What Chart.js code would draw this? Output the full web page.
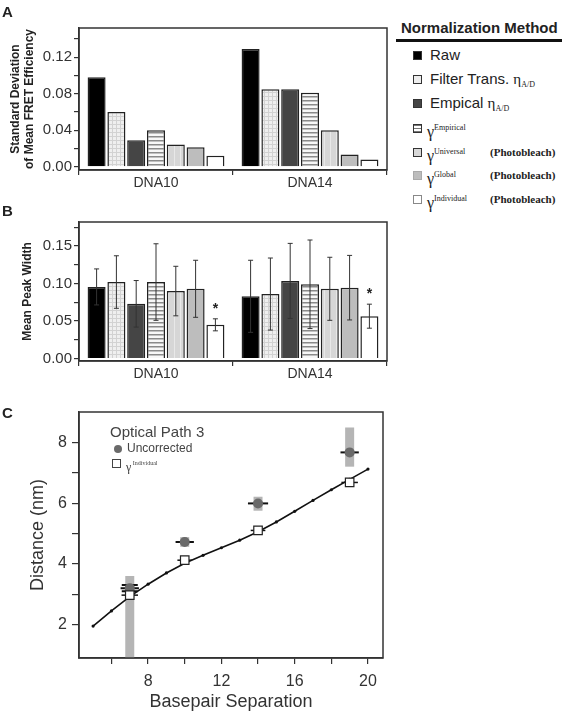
<!DOCTYPE html>
<html>
<head>
<meta charset="utf-8">
<script src="https://cdn.jsdelivr.net/npm/chart.js@4.4.0/dist/chart.umd.min.js"></script>
<style>
  body { margin: 0; background: #fff; }
  #fig { position: relative; width: 562px; height: 713px; overflow: hidden; font-family: "Liberation Sans", Arial, sans-serif; color: #222; }
  canvas { position: absolute; left: 0; }
  .abs { position: absolute; white-space: nowrap; }
  .panel { font-weight: bold; font-size: 15px; }
  .ser { font-family: "Liberation Serif", "Times New Roman", serif; }
  .sw { position: absolute; width: 7px; height: 7px; border: 1px solid #333; }
  .row { position: absolute; left: 430px; height: 18px; line-height: 18px; font-size: 15px; white-space: nowrap; }
  .row sub { font-size: 8px; vertical-align: -3px; }
  .row sup { font-size: 8px; vertical-align: 7px; }
  .pb { position: absolute; left: 490px; font-family: "Liberation Serif", "Times New Roman", serif; font-weight: bold; font-size: 11px; line-height: 14px; }
</style>
</head>
<body>
<div id="fig">
  <canvas id="chartA" width="392" height="190" style="top:0"></canvas>
  <canvas id="chartB" width="392" height="190" style="top:190px"></canvas>
  <canvas id="chartC" width="400" height="333" style="top:380px"></canvas>

  <div class="abs panel" style="left:2px;top:3px">A</div>
  <div class="abs panel" style="left:2px;top:202px">B</div>
  <div class="abs panel" style="left:2px;top:404px">C</div>

  <!-- normalization legend -->
  <div class="abs" style="left:401px;top:19px;font-weight:bold;font-size:15px;line-height:18px">Normalization Method</div>
  <div class="abs" style="left:396px;top:39px;width:166px;height:3px;background:#111"></div>

  <div class="sw" style="left:413px;top:51px;background:#000"></div>
  <div class="row" style="top:46px">Raw</div>

  <div class="sw" style="left:413px;top:75px;background:#eee"></div>
  <div class="row" style="top:70px">Filter Trans. <span class="ser">η<sub>A/D</sub></span></div>

  <div class="sw" style="left:413px;top:99px;background:#454545"></div>
  <div class="row" style="top:94px">Empical <span class="ser">η<sub>A/D</sub></span></div>

  <div class="sw" style="left:413px;top:124px;background:repeating-linear-gradient(to bottom,#777 0 1px,#fff 1px 3px)"></div>
  <div class="row ser" style="top:119px;left:427px;font-size:16px">γ<sup>Empirical</sup></div>

  <div class="sw" style="left:413px;top:148px;background:#d8d8d8"></div>
  <div class="row ser" style="top:143px;left:427px;font-size:16px">γ<sup>Universal</sup></div>
  <div class="pb" style="top:145px">(Photobleach)</div>

  <div class="sw" style="left:413px;top:171px;background:#bdbdbd;border-color:#aaa"></div>
  <div class="row ser" style="top:166px;left:427px;font-size:16px">γ<sup>Global</sup></div>
  <div class="pb" style="top:168px">(Photobleach)</div>

  <div class="sw" style="left:413px;top:195px;background:#fff;border-color:#888"></div>
  <div class="row ser" style="top:190px;left:427px;font-size:16px">γ<sup>Individual</sup></div>
  <div class="pb" style="top:192px">(Photobleach)</div>

  <!-- panel C legend -->
  <div class="abs" style="left:110px;top:423px;font-size:15px;line-height:18px;color:#444">Optical Path 3</div>
  <div class="abs" style="left:114px;top:445px;width:8px;height:8px;border-radius:50%;background:#6a6a6a"></div>
  <div class="abs" style="left:127px;top:441px;font-size:12px;line-height:14px;color:#444">Uncorrected</div>
  <div class="abs" style="left:112px;top:459px;width:7px;height:7px;border:1px solid #444;background:#fff"></div>
  <div class="abs ser" style="left:126px;top:456px;font-size:12px;line-height:14px;color:#444">γ<span style="font-size:6px;vertical-align:6px"> Individual</span></div>
</div>

<script>
const FONT = '"Liberation Sans", Arial, sans-serif';
Chart.defaults.font.family = FONT;
Chart.defaults.color = '#333';

// ---- data ----
const groups = ['DNA10', 'DNA14'];
const methods = ['Raw', 'Filter Trans. ηA/D', 'Empical ηA/D', 'γ Empirical',
  'γ Universal (Photobleach)', 'γ Global (Photobleach)', 'γ Individual (Photobleach)'];

// panel A: std dev of mean FRET efficiency, [DNA10, DNA14] per method
const sdFret = [
  [0.098, 0.129], [0.060, 0.085], [0.029, 0.085], [0.040, 0.081],
  [0.0245, 0.040], [0.0215, 0.0135], [0.012, 0.008]
];
const sdTicks = [0, 0.02, 0.04, 0.06, 0.08, 0.10, 0.12, 0.14];
const sdLabels = [0, 0.04, 0.08, 0.12];

// panel B: mean peak width and error
const peakWidth = [
  [0.0955, 0.083], [0.102, 0.086], [0.073, 0.1035], [0.102, 0.099],
  [0.090, 0.093], [0.093, 0.0945], [0.045, 0.0565]
];
const peakErr = [
  [0.024, 0.048], [0.035, 0.048], [0.031, 0.050], [0.051, 0.059],
  [0.033, 0.042], [0.038, 0.043], [0.008, 0.016]
];
const starred = [false, false, false, false, false, false, true];
const widthTicks = [0, 0.025, 0.05, 0.075, 0.10, 0.125, 0.15, 0.175];
const widthLabels = [0, 0.05, 0.10, 0.15];

// panel C: distance vs basepair separation
const fitBp = [5, 6, 7, 8, 9, 10, 11, 12, 13, 14, 15, 16, 17, 18, 19, 20];
const fitDist = [1.95, 2.45, 2.92, 3.33, 3.70, 4.02, 4.28, 4.53, 4.78, 5.06, 5.38, 5.73, 6.09, 6.44, 6.78, 7.12];
const obsBp = [7, 10, 14, 19];
const uncorrDist = [3.2, 4.72, 5.99, 7.67];
const uncorrXErr = [0.5, 0.5, 0.55, 0.5];
const uncorrYErr = [0.1, 0, 0, 0];
const uncorrSpreadLo = [2.4, 0.16, 0.24, 0.47];
const uncorrSpreadHi = [0.4, 0.16, 0.22, 0.82];
const indivDist = [2.97, 4.12, 5.1, 6.68];
const indivXErr = [0.45, 0.4, 0.4, 0.45];
const bpTicks = [6, 8, 10, 12, 14, 16, 18, 20];
const bpLabels = [8, 12, 16, 20];
const distTicks = [2, 3, 4, 5, 6, 7, 8];
const distLabels = [2, 4, 6, 8];

// ---- bar fills ----
function pattern(w, h, draw) {
  const c = document.createElement('canvas');
  c.width = w; c.height = h;
  const g = c.getContext('2d');
  draw(g, w, h);
  return g.createPattern(c, 'repeat');
}
const fills = [
  '#000',
  pattern(4, 4, (g, w, h) => { g.fillStyle = '#efefef'; g.fillRect(0, 0, w, h); g.fillStyle = '#d2d2d2'; g.fillRect(0, 0, w, 1); g.fillRect(0, 0, 1, h); }),
  '#454545',
  pattern(4, 4, (g, w, h) => { g.fillStyle = '#f7f7f7'; g.fillRect(0, 0, w, h); g.fillStyle = '#8a8a8a'; g.fillRect(0, 0, w, 1.5); }),
  pattern(6, 4, (g, w, h) => { g.fillStyle = '#d6d6d6'; g.fillRect(0, 0, w, h); g.fillStyle = '#e8e8e8'; g.fillRect(0, 0, 1, h); }),
  '#bdbdbd',
  '#fff'
];

const frame = {
  id: 'frame',
  afterDraw(chart) {
    const { ctx, chartArea: a } = chart;
    ctx.save();
    ctx.strokeStyle = '#333';
    ctx.lineWidth = 1.5;
    ctx.strokeRect(a.left, a.top, a.right - a.left, a.bottom - a.top);
    ctx.restore();
  }
};

function barDatasets(values) {
  return methods.map((m, i) => ({
    label: m,
    data: values[i],
    backgroundColor: fills[i],
    borderColor: '#222',
    borderWidth: 1.5,
    categoryPercentage: 0.9,
    barPercentage: 0.91
  }));
}

function barOptions(yMin, yMax, ticks, labels, title, titlePad, decimals) {
  return {
    responsive: false,
    animation: false,
    devicePixelRatio: 1,
    layout: { padding: { top: 0, right: 5, left: 0, bottom: 0 } },
    plugins: { legend: { display: false }, tooltip: { enabled: false } },
    scales: {
      x: {
        afterFit: s => { s.height = 20; },
        grid: { offset: true, drawOnChartArea: false, tickLength: 5, color: '#333', lineWidth: 1.2 },
        border: { color: '#333', width: 1.5 },
        ticks: { font: { size: 14 }, color: '#333', padding: 0 }
      },
      y: {
        min: yMin, max: yMax,
        afterBuildTicks: s => { s.ticks = ticks.map(v => ({ value: v })); },
        afterFit: s => { s.width = 79; },
        grid: { drawOnChartArea: false, tickLength: 5, color: '#333', lineWidth: 1.2 },
        border: { color: '#333', width: 1.5 },
        ticks: {
          autoSkip: false, padding: 2, font: { size: 15 }, color: '#333',
          callback: v => labels.some(l => Math.abs(l - v) < 1e-9) ? v.toFixed(decimals) : ''
        },
        title: { display: true, text: title, font: { size: 12, weight: 'bold' }, color: '#222', padding: { top: titlePad } }
      }
    }
  };
}

// panel A
const optA = barOptions(-0.0035, 0.152, sdTicks, sdLabels, ['Standard Deviation', 'of Mean FRET Efficiency'], 8, 2);
optA.layout.padding.top = 28;
new Chart(document.getElementById('chartA'), {
  type: 'bar',
  data: { labels: groups, datasets: barDatasets(sdFret) },
  options: optA,
  plugins: [frame]
});

// panel B
const errorBars = {
  id: 'errorBars',
  afterDatasetsDraw(chart) {
    const { ctx } = chart;
    const ys = chart.scales.y;
    ctx.save();
    chart.data.datasets.forEach((ds, i) => {
      chart.getDatasetMeta(i).data.forEach((bar, j) => {
        const v = peakWidth[i][j], e = peakErr[i][j];
        const top = ys.getPixelForValue(v + e), bot = ys.getPixelForValue(v - e);
        ctx.strokeStyle = '#333';
        ctx.lineWidth = 1;
        ctx.beginPath();
        ctx.moveTo(bar.x, bot); ctx.lineTo(bar.x, top);
        ctx.moveTo(bar.x - 2.5, top); ctx.lineTo(bar.x + 2.5, top);
        ctx.moveTo(bar.x - 2.5, bot); ctx.lineTo(bar.x + 2.5, bot);
        ctx.stroke();
        if (starred[i]) {
          ctx.fillStyle = '#222';
          ctx.font = 'bold 14px ' + FONT;
          ctx.textAlign = 'center';
          ctx.textBaseline = 'middle';
          ctx.fillText('*', bar.x, top - 10);
        }
      });
    });
    ctx.restore();
  }
};
const optB = barOptions(-0.0032, 0.182, widthTicks, widthLabels, 'Mean Peak Width', 20, 2);
optB.layout.padding.top = 32;
optB.scales.x.afterFit = s => { s.height = 19; };
new Chart(document.getElementById('chartB'), {
  type: 'bar',
  data: { labels: groups, datasets: barDatasets(peakWidth) },
  options: optB,
  plugins: [frame, errorBars]
});

// panel C
const spreads = {
  id: 'spreads',
  beforeDatasetsDraw(chart) {
    const { ctx, chartArea: a } = chart;
    const xs = chart.scales.x, ys = chart.scales.y;
    ctx.save();
    ctx.beginPath();
    ctx.rect(a.left, a.top, a.right - a.left, a.bottom - a.top);
    ctx.clip();
    obsBp.forEach((bp, i) => {
      const x = xs.getPixelForValue(bp);
      const yTop = ys.getPixelForValue(uncorrDist[i] + uncorrSpreadHi[i]);
      const yBot = ys.getPixelForValue(uncorrDist[i] - uncorrSpreadLo[i]);
      ctx.fillStyle = '#b5b5b5';
      ctx.fillRect(x - 4.5, yTop, 9, yBot - yTop);
    });
    ctx.strokeStyle = '#111';
    obsBp.forEach((bp, i) => {
      const y = ys.getPixelForValue(uncorrDist[i]);
      ctx.lineWidth = 2;
      ctx.beginPath();
      ctx.moveTo(xs.getPixelForValue(bp - uncorrXErr[i]), y);
      ctx.lineTo(xs.getPixelForValue(bp + uncorrXErr[i]), y);
      if (uncorrYErr[i] > 0) {
        const x = xs.getPixelForValue(bp);
        [uncorrDist[i] + uncorrYErr[i], uncorrDist[i] - uncorrYErr[i]].forEach(v => {
          const yc = ys.getPixelForValue(v);
          ctx.moveTo(x - 8, yc); ctx.lineTo(x + 8, yc);
        });
      }
      ctx.stroke();
      const yi = ys.getPixelForValue(indivDist[i]);
      ctx.lineWidth = 1.5;
      ctx.beginPath();
      ctx.moveTo(xs.getPixelForValue(bp - indivXErr[i]), yi);
      ctx.lineTo(xs.getPixelForValue(bp + indivXErr[i]), yi);
      ctx.stroke();
    });
    ctx.restore();
  }
};

const pts = (xs, ys) => xs.map((x, i) => ({ x, y: ys[i] }));
new Chart(document.getElementById('chartC'), {
  type: 'scatter',
  data: {
    datasets: [
      { label: 'γ Individual', data: pts(obsBp, indivDist), pointStyle: 'rect', pointRadius: 6,
        backgroundColor: '#fff', borderColor: '#222', borderWidth: 1.2 },
      { label: 'Uncorrected', data: pts(obsBp, uncorrDist), pointStyle: 'circle', pointRadius: 5,
        backgroundColor: '#6a6a6a', borderColor: '#6a6a6a', borderWidth: 0 },
      { label: 'fit', data: pts(fitBp, fitDist), showLine: true, borderColor: '#111', borderWidth: 1.6,
        pointRadius: 1.6, pointBackgroundColor: '#111', pointBorderWidth: 0, tension: 0 }
    ]
  },
  options: {
    responsive: false,
    animation: false,
    devicePixelRatio: 1,
    layout: { padding: { top: 32, right: 17, left: 0, bottom: 0 } },
    plugins: { legend: { display: false }, tooltip: { enabled: false } },
    scales: {
      x: {
        type: 'linear', min: 4.23, max: 20.82,
        afterBuildTicks: s => { s.ticks = bpTicks.map(v => ({ value: v })); },
        afterFit: s => { s.height = 55; },
        grid: { drawOnChartArea: false, tickLength: 6, color: '#333', lineWidth: 1.2 },
        border: { color: '#333', width: 1.5 },
        ticks: { autoSkip: false, maxRotation: 0, padding: 8, font: { size: 16 }, color: '#333',
          callback: v => bpLabels.includes(v) ? String(v) : '' },
        title: { display: true, text: 'Basepair Separation', font: { size: 18 }, color: '#333', padding: { top: 0, bottom: 0 } }
      },
      y: {
        min: 0.9, max: 9.0,
        afterBuildTicks: s => { s.ticks = distTicks.map(v => ({ value: v })); },
        afterFit: s => { s.width = 79; },
        grid: { drawOnChartArea: false, tickLength: 7, color: '#333', lineWidth: 1.2 },
        border: { color: '#333', width: 1.5 },
        ticks: { autoSkip: false, padding: 5, font: { size: 16 }, color: '#333',
          callback: v => distLabels.includes(v) ? String(v) : '' },
        title: { display: true, text: 'Distance (nm)', font: { size: 18 }, color: '#333', padding: { top: 27 } }
      }
    }
  },
  plugins: [frame, spreads]
});
</script>
</body>
</html>
